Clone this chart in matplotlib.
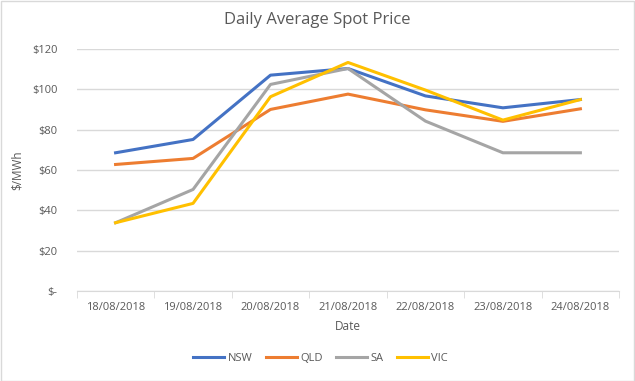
import matplotlib
matplotlib.use('Agg')
import matplotlib.pyplot as plt
from matplotlib.ticker import FuncFormatter

dates = ['18/08/2018', '19/08/2018', '20/08/2018', '21/08/2018',
         '22/08/2018', '23/08/2018', '24/08/2018']
nsw = [68.6, 75.2, 107.1, 110.4, 96.8, 90.9, 95.0]
qld = [62.8, 65.8, 90.1, 97.7, 89.9, 84.2, 90.4]
sa = [33.9, 50.4, 102.5, 110.4, 84.3, 68.6, 68.6]
vic = [33.9, 43.5, 96.4, 113.4, 99.7, 84.8, 95.0]

plt.rcParams['font.family'] = ['Open Sans', 'DejaVu Sans']
txt = '#595959'
grid = '#d9d9d9'

fig = plt.figure(figsize=(6.35, 3.81), dpi=100)
ax = fig.add_axes([0.121, 0.236, 0.854, 0.635])

x = range(len(dates))
ax.plot(x, nsw, color='#4472c4', lw=2.2, label='NSW', solid_joinstyle='round')
ax.plot(x, qld, color='#ed7d31', lw=2.2, label='QLD', solid_joinstyle='round')
ax.plot(x, sa, color='#a5a5a5', lw=2.2, label='SA', solid_joinstyle='round')
ax.plot(x, vic, color='#ffc000', lw=2.2, label='VIC', solid_joinstyle='round')

ax.set_xlim(-0.5, len(dates) - 0.5)
ax.set_ylim(0, 120)
ax.set_yticks([0, 20, 40, 60, 80, 100, 120])
ax.yaxis.set_major_formatter(FuncFormatter(lambda v, p: '$-' if v == 0 else '$%d' % v))
ax.set_xticks(list(x))
ax.set_xticklabels(dates)
ax.set_xticks([i - 0.5 for i in range(len(dates) + 1)], minor=True)
ax.tick_params(axis='x', which='major', length=0, pad=8, labelsize=8, colors=txt)
ax.tick_params(axis='x', which='minor', length=5, color=grid, direction='out')
ax.tick_params(axis='y', length=0, pad=14, labelsize=8, colors=txt)
ax.grid(axis='y', color=grid, lw=1)
ax.set_axisbelow(True)
for s in ['top', 'right', 'left']:
    ax.spines[s].set_visible(False)
ax.spines['bottom'].set_color(grid)

fig.text(0.5, 0.947, 'Daily Average Spot Price', fontsize=12, color=txt,
         ha='center', va='center')
ax.set_xlabel('Date', fontsize=8.5, color=txt, labelpad=5)
ax.set_ylabel('$/MWh', fontsize=8.5, color=txt, labelpad=6)

leg = fig.legend(loc='center', bbox_to_anchor=(0.505, 0.06), ncol=4,
                 frameon=False, fontsize=8, handlelength=2.8,
                 columnspacing=1.2, handletextpad=0.3)
for t in leg.get_texts():
    t.set_color(txt)

fig.patches.append(plt.Rectangle((0.001, 0.001), 0.997, 0.997, transform=fig.transFigure,
                                 fill=False, edgecolor=grid, lw=1))
fig.savefig('out.png', dpi=100)
